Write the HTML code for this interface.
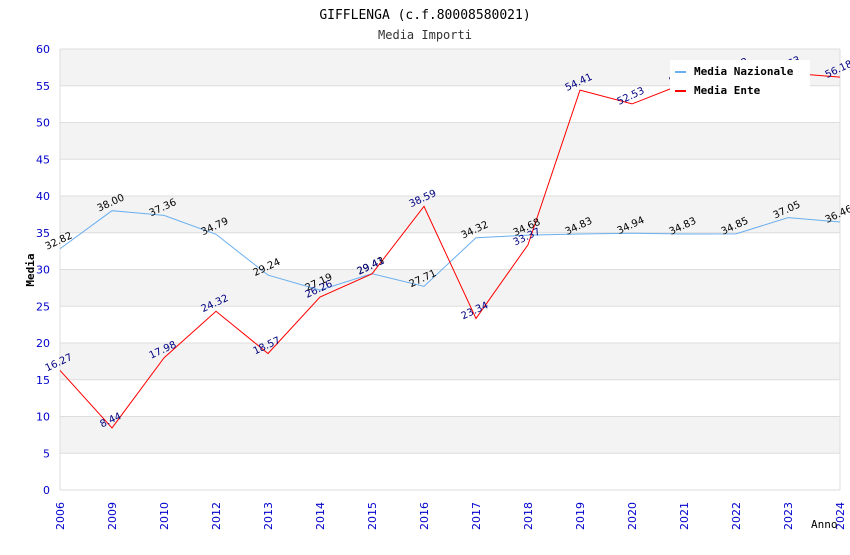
<!DOCTYPE html>
<html><head><meta charset="utf-8"><style>
body{margin:0;background:#fff;width:850px;height:550px;overflow:hidden}
svg text{font-family:"DejaVu Sans","Liberation Sans",sans-serif}
.mono{font-family:"DejaVu Sans Mono","Liberation Mono",monospace}
</style></head><body>
<svg id="chart" width="850" height="550">
<text x="425" y="19" text-anchor="middle" class="mono" font-size="13" fill="#000">GIFFLENGA (c.f.80008580021)</text>
<text x="425" y="39" text-anchor="middle" class="mono" font-size="12" fill="#333">Media Importi</text>
<g id="bands"></g><g id="yaxis"></g><g id="xaxis"></g><g id="series"></g><g id="labels"></g>
<text x="34" y="270" transform="rotate(-90 34 270)" text-anchor="middle" class="mono" font-size="11" font-weight="bold" fill="#000">Media</text>
<text x="811" y="528" class="mono" font-size="11" fill="#000">Anno</text>
<g>
<rect x="670" y="60" width="140" height="40" fill="#fff"></rect>
<line x1="675" y1="72" x2="686" y2="72" stroke="#6aaef0" stroke-width="2"></line>
<text x="694" y="75" class="mono" font-size="11" font-weight="bold">Media Nazionale</text>
<line x1="675" y1="91" x2="686" y2="91" stroke="#f00" stroke-width="2"></line>
<text x="694" y="94" class="mono" font-size="11" font-weight="bold">Media Ente</text>
</g>
</svg>
<script>
const categories=["2006","2009","2010","2012","2013","2014","2015","2016","2017","2018","2019","2020","2021","2022","2023","2024"];
const nazionale=[32.82,38.00,37.36,34.79,29.24,27.19,29.43,27.71,34.32,34.68,34.83,34.94,34.83,34.85,37.05,36.46];
const ente=[16.27,8.44,17.98,24.32,18.57,26.26,29.41,38.59,23.34,33.37,54.41,52.53,55.30,56.52,56.73,56.18];
const yTicks=[0,5,10,15,20,25,30,35,40,45,50,55,60];
const X0=60,X1=840,Y0=490,Y1=49,YMAX=60;
const x=i=>X0+i*(X1-X0)/(categories.length-1);
const y=v=>Y0-v*(Y0-Y1)/YMAX;
const NS="http://www.w3.org/2000/svg";
function mk(t,a,p){const e=document.createElementNS(NS,t);for(const k in a)e.setAttribute(k,a[k]);p.appendChild(e);return e;}
const bands=document.getElementById('bands'),ya=document.getElementById('yaxis'),xa=document.getElementById('xaxis'),se=document.getElementById('series'),lb=document.getElementById('labels');
for(let i=0;i<yTicks.length-1;i++){
 if(i%2===1){const r=mk('rect',{x:X0,y:y(yTicks[i+1]),width:X1-X0,height:y(yTicks[i])-y(yTicks[i+1]),fill:'#f3f3f3'},bands);
 
 }
}
yTicks.forEach(v=>{
 const l=mk('line',{x1:X0,x2:X1,y1:y(v),y2:y(v),stroke:'#ddd'},ya);
 
 
 const t=mk('text',{x:50,y:y(v)+4,'text-anchor':'end','font-size':11,fill:'#00c'},ya);
 t.textContent=v;
 
 
});
mk('line',{x1:X0,x2:X0,y1:Y1,y2:Y0,stroke:'#ddd'},ya);
mk('line',{x1:X1,x2:X1,y1:Y1,y2:Y0,stroke:'#ddd'},ya);
categories.forEach((c,i)=>{
 const t=mk('text',{x:x(i)+4,y:502,'text-anchor':'end','font-size':11,fill:'#00c',transform:`rotate(-90 ${x(i)+4} 502)`},xa);
 t.textContent=c;
 
 
});
function series(data,color,lc,name){
 const p=mk('polyline',{points:data.map((v,i)=>x(i)+','+y(v)).join(' '),fill:'none',stroke:color,'stroke-width':1},se);
 
 
 data.forEach((v,i)=>{
  const tx=x(i),ty=y(v)-5;
  const t=mk('text',{x:tx,y:ty,'text-anchor':'middle','font-size':10,fill:lc,transform:`rotate(-25 ${tx} ${ty})`},lb);
  t.textContent=v.toFixed(2);
  
  
 });
}
series(nazionale,'#6aaef0','#000','nazionale');
series(ente,'#f00','#000080','ente');
</script>
</body></html>
